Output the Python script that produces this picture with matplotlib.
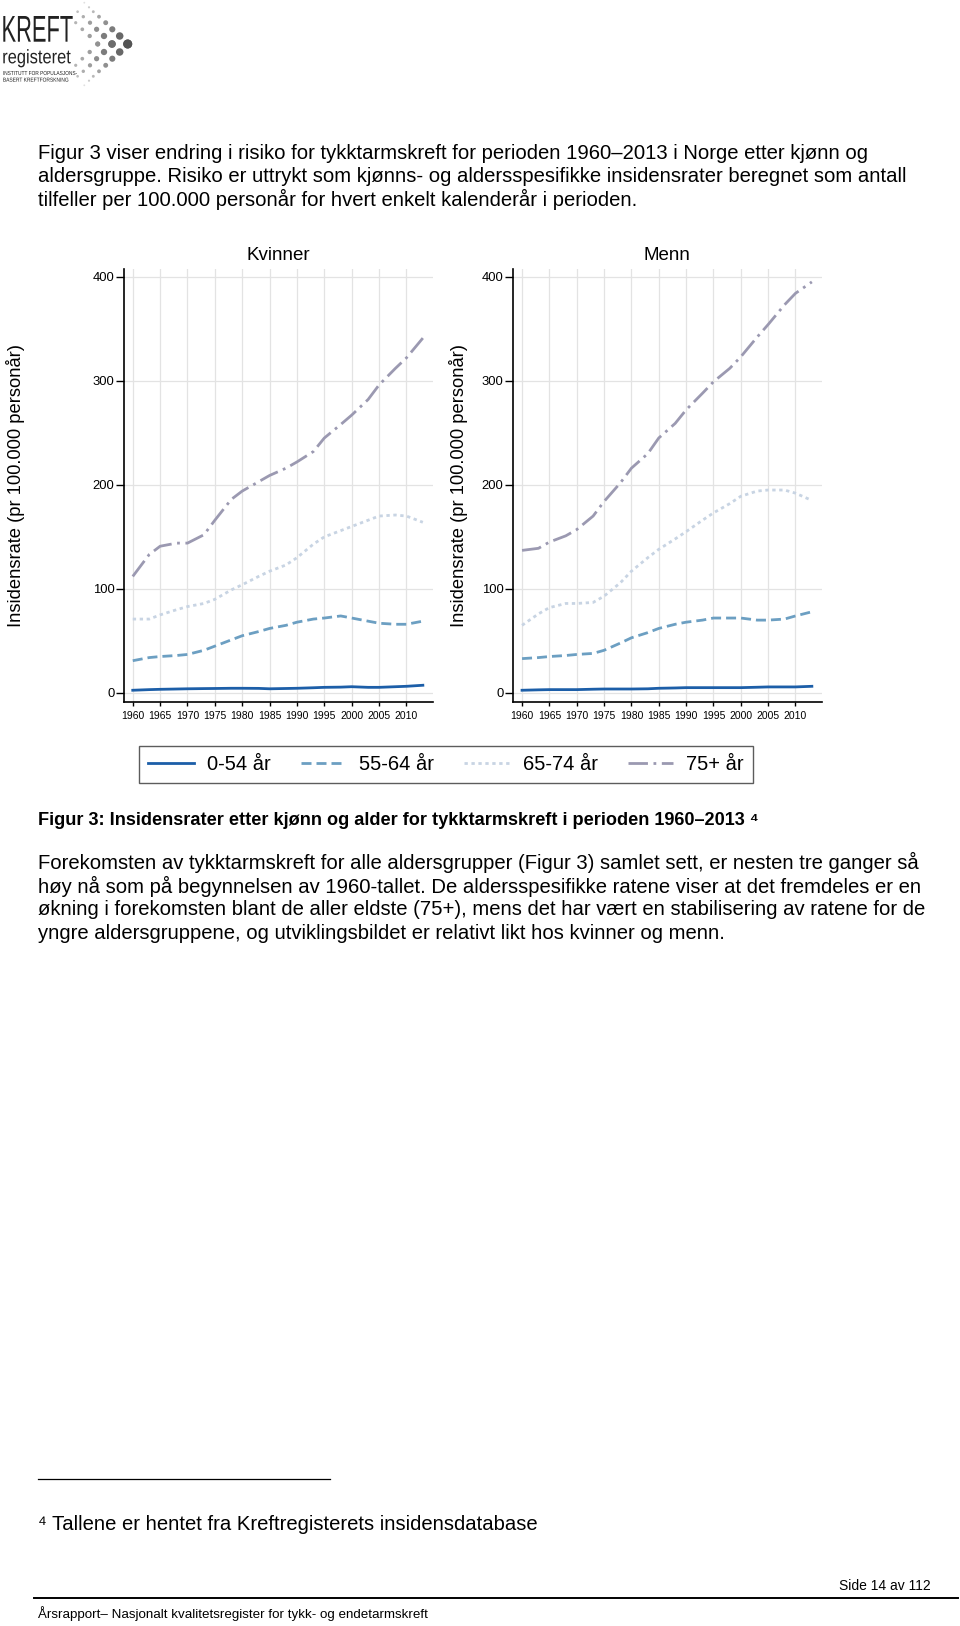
import matplotlib
matplotlib.use('Agg')
import matplotlib.pyplot as plt
import matplotlib.transforms as mtransforms
from matplotlib.lines import Line2D
from matplotlib.textpath import TextPath
from matplotlib.patches import PathPatch
from matplotlib.font_manager import FontProperties

plt.rcParams['font.family'] = ['Liberation Sans', 'DejaVu Sans']

# insidensrater pr 100.000 personår, lest av figuren
years = [1960, 1963, 1965, 1968, 1970, 1973, 1975, 1978, 1980, 1983, 1985,
         1988, 1990, 1993, 1995, 1998, 2000, 2003, 2005, 2008, 2010, 2013]

kv_0_54 = [2.6, 3.2, 3.5, 3.8, 4.0, 4.2, 4.3, 4.5, 4.5, 4.4, 4.0,
           4.3, 4.5, 5.0, 5.4, 5.6, 6.0, 5.4, 5.4, 6.0, 6.4, 7.4]
kv_55_64 = [31, 34, 35, 36, 37, 41, 45, 51, 55, 59, 62,
            65, 68, 71, 72, 74, 72, 69, 67, 66, 66, 69]
kv_65_74 = [71, 71, 75, 80, 83, 86, 90, 99, 104, 112, 117,
            123, 130, 143, 150, 156, 160, 166, 170, 171, 170, 164]
kv_75 = [112, 133, 141, 144, 144, 152, 166, 186, 194, 203, 209,
         216, 222, 232, 245, 258, 267, 282, 296, 312, 322, 341]

me_0_54 = [2.6, 3.0, 3.2, 3.2, 3.2, 3.6, 3.8, 3.8, 3.8, 4.0, 4.5,
           4.8, 5.1, 5.1, 5.1, 5.1, 5.1, 5.5, 5.8, 5.8, 5.8, 6.4]
me_55_64 = [33, 34, 35, 36, 37, 38, 41, 48, 53, 58, 62,
            66, 68, 70, 72, 72, 72, 70, 70, 71, 74, 78]
me_65_74 = [65, 76, 82, 86, 86, 87, 93, 106, 117, 130, 138,
            148, 155, 166, 173, 182, 189, 194, 195, 195, 192, 185]
me_75 = [137, 139, 145, 151, 157, 170, 184, 202, 216, 230, 245,
         259, 272, 288, 299, 312, 323, 342, 354, 373, 384, 395]

groups = ['0-54 år', '55-64 år', '65-74 år', '75+ år']
panels = ['Kvinner', 'Menn']
xticks = [1960, 1965, 1970, 1975, 1980, 1985, 1990, 1995, 2000, 2005, 2010]
yticks = [0, 100, 200, 300, 400]

colors = ['#1c5ea8', '#6c9fc2', '#c8d4e3', '#9b99b1']
styles = ['-', (0, (3.6, 1.8)), (0, (1.2, 1.3)), (0, (7, 2, 1, 2))]

W, H = 960, 1626
fig = plt.figure(figsize=(9.6, 16.26), dpi=100)


def px_axes(x0, x1, y0, y1):
    # pikselkoordinater (topp ned) -> figurbrøk
    return [x0 / W, 1 - y1 / H, (x1 - x0) / W, (y1 - y0) / H]


ax1 = fig.add_axes(px_axes(124, 432.7, 269, 701.7))
ax2 = fig.add_axes(px_axes(513.3, 821.7, 269, 701.7))

data = [[kv_0_54, kv_55_64, kv_65_74, kv_75], [me_0_54, me_55_64, me_65_74, me_75]]
for ax, series in zip([ax1, ax2], data):
    for vals, c, ls in zip(series, colors, styles):
        ax.plot(years, vals, color=c, linestyle=ls, lw=2.0)
    ax.set_xlim(1958.4, 2014.8)
    ax.set_ylim(-8.4, 407.4)
    ax.set_xticks(xticks)
    ax.set_yticks(yticks)
    ax.grid(True, color='#e3e3e3', lw=0.9)
    ax.set_axisbelow(True)
    for s in ['top', 'right']:
        ax.spines[s].set_visible(False)
    for s in ['left', 'bottom']:
        ax.spines[s].set_linewidth(1.2)
    ax.tick_params(axis='y', labelsize=9.4, length=5.5, width=1, pad=1.5)
    ax.tick_params(axis='x', labelsize=7.5, length=3, width=1, pad=4)

# titler og y-akse-tekster
fig.text(278 / W, 1 - 255 / H, panels[0], ha='center', va='center', fontsize=13.5)
fig.text(667 / W, 1 - 255 / H, panels[1], ha='center', va='center', fontsize=13.5)
ylab = 'Insidensrate (pr 100.000 personår)'
fig.text(16 / W, 1 - 485 / H, ylab, rotation=90, ha='center', va='center', fontsize=13.2)
fig.text(459 / W, 1 - 485 / H, ylab, rotation=90, ha='center', va='center', fontsize=13.2)

handles = [Line2D([], [], color=c, linestyle=ls, lw=2.0) for c, ls in zip(colors, styles)]
leg = fig.legend(handles, groups, ncol=4, loc='center', bbox_to_anchor=(446 / W, 1 - 764.5 / H),
                 frameon=True, fancybox=False, edgecolor='#333333', fontsize=14.5,
                 handlelength=2.25, handletextpad=0.65, columnspacing=1.5, borderpad=0.45)
leg.get_frame().set_linewidth(1.0)

# sideelementer i pikselkoordinater
page = fig.add_axes([0, 0, 1, 1], zorder=-1)
page.set_xlim(0, W)
page.set_ylim(H, 0)
page.axis('off')


def squeezed(s, x0, x1, base, cap, color='#222222'):
    # tekst som sti, presset til gitt bredde og høyde
    tp = TextPath((0, 0), s, size=100, prop=FontProperties(family='Liberation Sans'))
    ext = tp.get_extents()
    ref = TextPath((0, 0), 'H', size=100, prop=FontProperties(family='Liberation Sans')).get_extents()
    sx = (x1 - x0) / ext.width
    sy = cap / ref.height
    tr = mtransforms.Affine2D().translate(-ext.x0, 0).scale(sx, -sy).translate(x0, base)
    page.add_patch(PathPatch(tr.transform_path(tp), color=color, lw=0))


# logo
squeezed('KREFT', 3.3, 72.7, 41.7, 25.7)
squeezed('registeret', 3.3, 70.7, 63.3, 13.5)
squeezed('INSTITUTT FOR POPULASJONS-', 3.3, 77, 75, 4)
squeezed('BASERT KREFTFORSKNING', 3.3, 68.3, 81.7, 4)

# prikkpil: tre vinkler med prikker som vokser mot spissen
arm_dx = [0, 8.0, 15.4, 22.0, 28.7, 34.4, 38.7, 43.4]
arm_dy = [0, 8.0, 14.7, 21.3, 27.3, 32.3, 36.7, 41.3]
tips = [(127.7, 7, 9.0), (112.0, 5, 7.5), (97.7, 3, 5.0)]
for tx, n, dmax in tips:
    for side in [-1, 1]:
        for i in range(n + 1):
            f = 1 - i / 7.0
            d = 1.8 + (dmax - 1.8) * f ** 1.5
            g = 0.88 - 0.55 * f * (dmax / 9.0)
            page.scatter([tx - arm_dx[i]], [44 + side * arm_dy[i]], s=(d * 0.72) ** 2,
                         color=(g, g, g), edgecolors='none', zorder=3)

para1 = ['Figur 3 viser endring i risiko for tykktarmskreft for perioden 1960–2013 i Norge etter kjønn og',
         'aldersgruppe. Risiko er uttrykt som kjønns- og aldersspesifikke insidensrater beregnet som antall',
         'tilfeller per 100.000 personår for hvert enkelt kalenderår i perioden.']
for y, line in zip([153.4, 176.2, 199.0], para1):
    page.text(38, y, line, fontsize=14.6, va='center', ha='left')

page.text(38, 820, 'Figur 3: Insidensrater etter kjønn og alder for tykktarmskreft i perioden 1960–2013 ⁴',
          fontsize=13.1, weight='bold', va='center', ha='left')

para2 = ['Forekomsten av tykktarmskreft for alle aldersgrupper (Figur 3) samlet sett, er nesten tre ganger så',
         'høy nå som på begynnelsen av 1960-tallet. De aldersspesifikke ratene viser at det fremdeles er en',
         'økning i forekomsten blant de aller eldste (75+), mens det har vært en stabilisering av ratene for de',
         'yngre aldersgruppene, og utviklingsbildet er relativt likt hos kvinner og menn.']
for y, line in zip([862.5, 886.4, 909.2, 933.0], para2):
    page.text(38, y, line, fontsize=14.6, va='center', ha='left')

page.plot([38, 330], [1479, 1479], color='black', lw=0.9)
page.text(38, 1524, '⁴ Tallene er hentet fra Kreftregisterets insidensdatabase',
          fontsize=14.6, va='center', ha='left')
page.text(931, 1586, 'Side 14 av 112', fontsize=10, va='center', ha='right')
page.plot([34, 958], [1597.6, 1597.6], color='black', lw=1.4)
page.text(38, 1614, 'Årsrapport– Nasjonalt kvalitetsregister for tykk- og endetarmskreft',
          fontsize=9.6, va='center', ha='left')

fig.savefig('out.png', dpi=100)
